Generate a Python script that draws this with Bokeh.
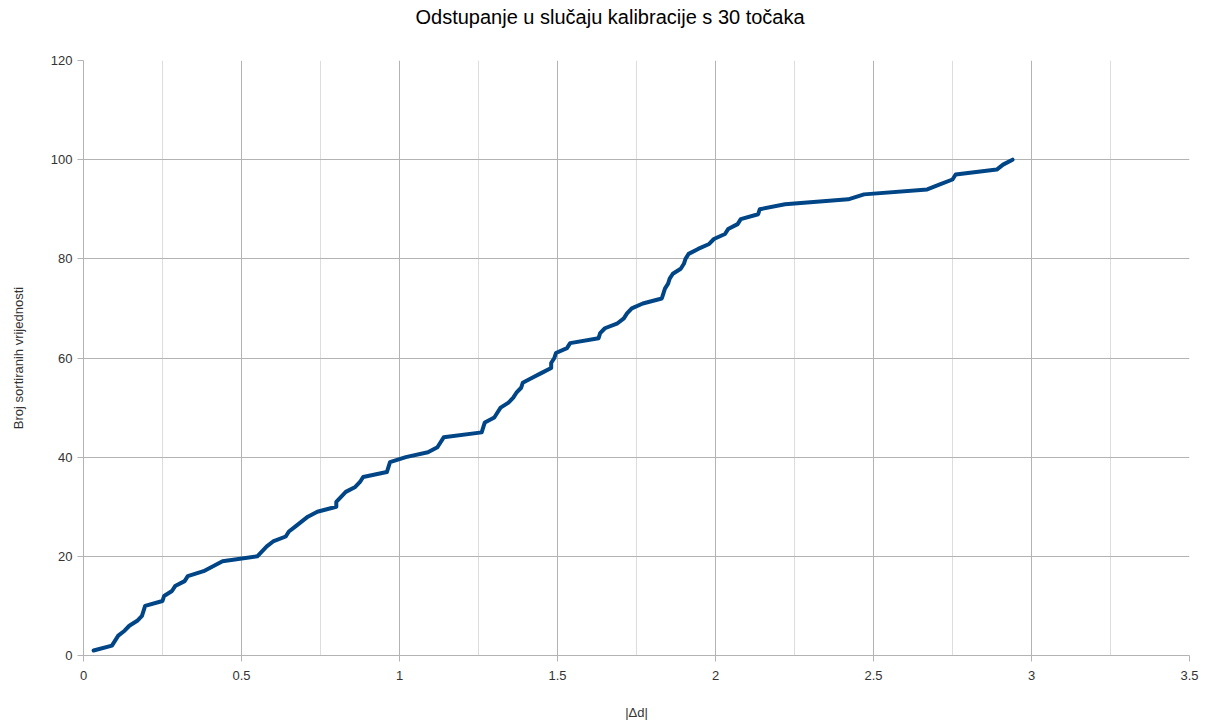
from bokeh.plotting import figure
from bokeh.models import FixedTicker, Range1d, Title
from bokeh.embed import file_html
from bokeh.resources import INLINE

# Sorted |Δd| values (x) against rank (y)
rank = list(range(1, 101))
delta_d = [
    0.032, 0.09, 0.10, 0.11, 0.13, 0.145, 0.17, 0.185, 0.19, 0.195,
    0.25, 0.255, 0.28, 0.29, 0.32, 0.33, 0.38, 0.41, 0.44, 0.55,
    0.565, 0.58, 0.60, 0.64, 0.65, 0.67, 0.69, 0.71, 0.74, 0.80,
    0.80, 0.815, 0.83, 0.86, 0.875, 0.885, 0.96, 0.965, 0.97, 1.02,
    1.09, 1.12, 1.13, 1.14, 1.26, 1.265, 1.27, 1.30, 1.31, 1.32,
    1.345, 1.36, 1.37, 1.385, 1.39, 1.42, 1.45, 1.48, 1.48, 1.49,
    1.495, 1.53, 1.54, 1.63, 1.635, 1.65, 1.69, 1.71, 1.72, 1.735,
    1.77, 1.83, 1.835, 1.84, 1.85, 1.855, 1.865, 1.89, 1.90, 1.905,
    1.915, 1.945, 1.98, 1.995, 2.03, 2.04, 2.07, 2.08, 2.135, 2.14,
    2.22, 2.42, 2.47, 2.67, 2.71, 2.75, 2.76, 2.89, 2.91, 2.94,
]
x_ticks = [0, 0.5, 1, 1.5, 2, 2.5, 3, 3.5]
x_minor = [0.25, 0.75, 1.25, 1.75, 2.25, 2.75, 3.25]
y_ticks = [0, 20, 40, 60, 80, 100, 120]
title_text = "Odstupanje u slučaju kalibracije s 30 točaka"
x_label = "|Δd|"
y_label = "Broj sortiranih vrijednosti"

FONT = "Liberation Sans"

p = figure(width=1205, height=722, output_backend="svg", toolbar_location=None,
           x_range=Range1d(0, 3.5), y_range=Range1d(0, 120), title=None)
p.min_border_left = 83
p.min_border_right = 16
p.min_border_top = 60
p.min_border_bottom = 66
p.outline_line_color = None

p.xaxis.ticker = FixedTicker(ticks=x_ticks, minor_ticks=x_minor)
p.yaxis.ticker = FixedTicker(ticks=y_ticks)
for ax in (p.xaxis[0], p.yaxis[0]):
    ax.axis_line_color = "#b3b3b3"
    ax.major_tick_line_color = "#b3b3b3"
    ax.major_tick_out = 6
    ax.major_tick_in = 0
    ax.minor_tick_line_color = None
    ax.major_label_text_font = FONT
    ax.major_label_text_font_size = "13px"
    ax.major_label_text_color = "#333333"
    ax.axis_label_text_font = FONT
    ax.axis_label_text_font_size = "13px"
    ax.axis_label_text_font_style = "normal"
    ax.axis_label_text_color = "#333333"
p.xaxis.axis_label = x_label
p.yaxis.axis_label = y_label
p.xaxis.axis_label_standoff = 22
p.yaxis.axis_label_standoff = 22
p.xaxis.major_label_standoff = 9
p.yaxis.major_label_standoff = 5

p.xgrid.grid_line_color = "#b3b3b3"
p.xgrid.minor_grid_line_color = "#dddddd"
p.ygrid.grid_line_color = "#b3b3b3"

p.line(delta_d, rank, line_color="#004586", line_width=4, line_join="round", line_cap="round")

# spacer between the title and the plot frame
spacer = Title(text=" ", text_font=FONT, text_font_size="10px", standoff=13)
p.add_layout(spacer, "above")

title = Title(text=title_text, text_font=FONT, text_font_size="20px",
              text_font_style="normal", text_color="#000000", align="left",
              vertical_align="top", offset=332, standoff=10)
p.add_layout(title, "above")

open("out.html", "w").write(file_html(p, INLINE))
